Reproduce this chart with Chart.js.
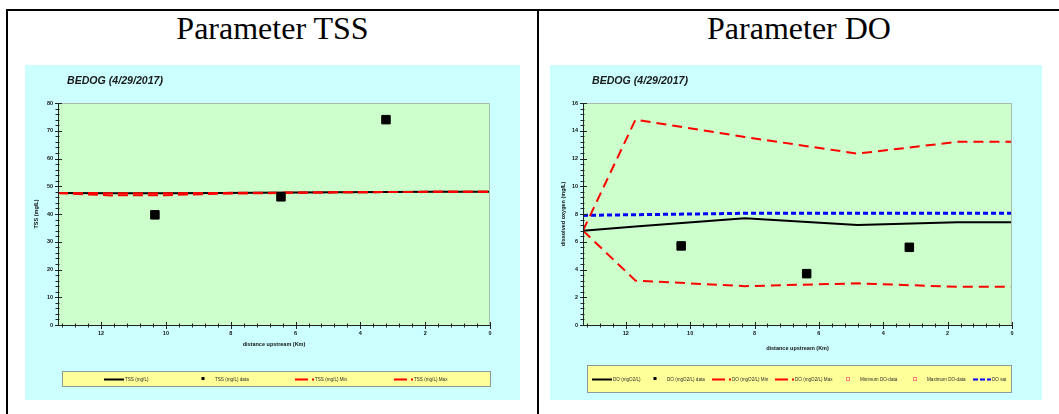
<!DOCTYPE html>
<html>
<head>
<meta charset="utf-8">
<script src="https://cdn.jsdelivr.net/npm/chart.js@4.4.1/dist/chart.umd.min.js"></script>
<style>
  html, body { margin: 0; padding: 0; background: #fff; width: 1059px; height: 414px; overflow: hidden; position: relative; }
  .rule { position: absolute; background: #000; }
  .hdr { position: absolute; top: 10px; font: 32px/36px "Liberation Serif", "Times New Roman", serif; color: #000; text-align: center; }
  .pane { position: absolute; }
  .pane canvas { display: block; filter: blur(0.3px); }
</style>
</head>
<body>
<div class="rule" style="left:6px;top:9px;width:1053px;height:2px"></div>
<div class="rule" style="left:6px;top:9px;width:2px;height:405px"></div>
<div class="rule" style="left:537px;top:9px;width:2px;height:405px"></div>
<div class="hdr" style="left:8px;width:529px">Parameter TSS</div>
<div class="hdr" style="left:539px;width:520px">Parameter DO</div>
<div class="pane" style="left:25px;top:65px;width:495px;height:335px"><canvas id="tss" width="495" height="335"></canvas></div>
<div class="pane" style="left:550px;top:65px;width:492px;height:335px"><canvas id="do" width="492" height="335"></canvas></div>

<script>
// River Bedog, survey of 4/29/2017 — distances are km upstream of the outlet
const chartTitle = 'BEDOG (4/29/2017)';
const xTitle = 'distance upstream (Km)';

// TSS model profile and envelope
const tssKm    = [13.33, 11.7, 10.0, 8.3, 4.8, 1.7, 0];
const tssModel = [47.6, 47.5, 47.5, 47.6, 47.8, 48.0, 48.0];
const tssMin   = [47.5, 46.7, 46.8, 47.3, 47.8, 48.0, 48.0];
const tssMax   = [47.6, 47.5, 47.5, 47.6, 47.8, 48.0, 48.0];
// TSS field samples
const tssObsKm = [10.34, 6.45, 3.21];
const tssObs   = [39.7, 46.2, 74.0];

// DO model profile, envelope and saturation
const doKm    = [13.33, 11.7, 8.3, 4.8, 1.7, 0];
const doModel = [6.8, 7.1, 7.7, 7.2, 7.4, 7.4];
const doMin   = [6.8, 3.2, 2.8, 3.0, 2.75, 2.75];
const doMax   = [6.8, 14.8, 13.55, 12.35, 13.2, 13.2];
const doSat   = [7.9, 7.95, 8.05, 8.05, 8.05, 8.05];
// DO field samples
const doObsKm = [10.28, 6.38, 3.19];
const doObs   = [5.7, 3.7, 5.6];
const doObsMinKm = [], doObsMin = [];
const doObsMaxKm = [], doObsMax = [];

const pts = (xs, ys) => xs.map((x, i) => ({ x, y: ys[i] }));
const SANS = '"Liberation Sans", Arial, sans-serif';

// Background, frame, tick marks, title and legend box
const framePlugin = {
  id: 'frame',
  beforeDraw(chart) {
    const { ctx, chartArea: a, width, height } = chart;
    ctx.save();
    ctx.fillStyle = '#CCFFFF';
    ctx.fillRect(0, 0, width, height);
    ctx.fillStyle = '#CCFFCC';
    ctx.fillRect(a.left, a.top, a.right - a.left, a.bottom - a.top);
    ctx.restore();
  },
  afterDraw(chart, args, o) {
    const { ctx, chartArea: a } = chart;
    const xs = chart.scales.x, ys = chart.scales.y;
    ctx.save();
    ctx.lineWidth = 1;
    ctx.strokeStyle = '#A9BBA9';
    ctx.beginPath();
    ctx.moveTo(a.left, a.top + 0.5);
    ctx.lineTo(a.right - 0.5, a.top + 0.5);
    ctx.lineTo(a.right - 0.5, a.bottom);
    ctx.stroke();
    ctx.strokeStyle = '#222';
    ctx.beginPath();
    ctx.moveTo(a.left + 0.5, a.top);
    ctx.lineTo(a.left + 0.5, a.bottom + 0.5);
    ctx.lineTo(a.right, a.bottom + 0.5);
    ctx.stroke();

    // tick marks: five minor divisions per labelled step
    const marks = (scale, step, horiz) => {
      const minor = step / 5;
      const n = Math.floor(scale.max / minor + 1e-6);
      ctx.beginPath();
      for (let k = 0; k <= n; k++) {
        const p = Math.round(scale.getPixelForValue(k * minor)) + 0.5;
        const major = k % 5 === 0;
        if (horiz) {
          ctx.moveTo(p, a.bottom - (major ? 3 : 1.5));
          ctx.lineTo(p, a.bottom + (major ? 4 : 2.5));
        } else {
          ctx.moveTo(a.left - (major ? 3 : 2.5), p);
          ctx.lineTo(a.left + (major ? 4 : 1.5), p);
        }
      }
      ctx.stroke();
    };
    marks(xs, xs.options.ticks.stepSize, true);
    marks(ys, ys.options.ticks.stepSize, false);

    // title
    ctx.fillStyle = '#1a1a1a';
    ctx.font = 'italic bold 10.6px ' + SANS;
    ctx.textBaseline = 'middle';
    ctx.textAlign = 'left';
    ctx.fillText(o.title, o.titleX, o.titleY);

    // legend
    const b = o.box;
    ctx.fillStyle = '#FFFF99';
    ctx.fillRect(b.l, b.t, b.w, b.h);
    ctx.strokeStyle = '#8C9A9A';
    ctx.strokeRect(b.l + 0.5, b.t + 0.5, b.w - 1, b.h - 1);
    const cy = Math.round(b.t + b.h / 2);
    ctx.font = '4.6px ' + SANS;
    o.items.forEach(it => {
      const ds = chart.data.datasets[it.ds];
      let tx = it.x;
      ctx.setLineDash([]);
      if (it.sym === 'line' || it.sym === 'lineDot') {
        ctx.strokeStyle = ds.borderColor;
        ctx.lineWidth = 2;
        ctx.setLineDash(it.dash || []);
        ctx.beginPath();
        ctx.moveTo(it.x, cy + 0.5);
        ctx.lineTo(it.x + it.len, cy + 0.5);
        ctx.stroke();
        ctx.setLineDash([]);
        tx = it.x + it.len + 1;
        if (it.sym === 'lineDot') {
          ctx.fillStyle = ds.borderColor;
          ctx.fillRect(it.x + it.len + 4, cy - 0.5, 2, 2);
          tx = it.x + it.len + 7;
        }
      } else if (it.sym === 'point') {
        ctx.fillStyle = ds.backgroundColor;
        ctx.fillRect(it.x - 1.5, cy - 2, 3, 3);
        tx = it.x + 12;
      } else if (it.sym === 'open') {
        ctx.strokeStyle = ds.borderColor;
        ctx.lineWidth = 1;
        ctx.strokeRect(it.x - 1.5, cy - 1.5, 3, 3);
        tx = it.x + 12;
      }
      ctx.fillStyle = '#2a2a2a';
      ctx.fillText(ds.label, tx, cy + 0.5);
    });
    ctx.restore();
  }
};

function buildChart(id, cfg) {
  return new Chart(document.getElementById(id), {
    type: 'line',
    data: { datasets: cfg.datasets },
    options: {
      responsive: false,
      animation: false,
      events: [],
      layout: { padding: { left: 0, right: 30, top: 38, bottom: 0 } },
      elements: { line: { tension: 0 }, point: { radius: 0 } },
      plugins: {
        legend: { display: false },
        tooltip: { enabled: false },
        frame: cfg.frame
      },
      scales: {
        x: {
          type: 'linear', reverse: true, min: 0, max: 13.33,
          grid: { display: false, drawTicks: false },
          border: { display: false },
          ticks: { stepSize: 2, includeBounds: false, autoSkip: false, maxRotation: 0,
                   padding: 5, color: '#111', font: { family: SANS, size: 5.5, weight: 'bold' } },
          title: { display: true, text: xTitle, color: '#111',
                   font: { family: SANS, size: 5.5, weight: 'bold' },
                   padding: { top: 0, bottom: cfg.xTitlePad } },
          afterFit: s => { s.height = 75; }
        },
        y: {
          type: 'linear', min: 0, max: cfg.yMax,
          grid: { display: false, drawTicks: false },
          border: { display: false },
          ticks: { stepSize: cfg.yStep, autoSkip: false, padding: 5, color: '#111',
                   font: { family: SANS, size: 5.5, weight: 'bold' } },
          title: { display: true, text: cfg.yTitle, color: '#111',
                   font: { family: SANS, size: 5.5, weight: 'bold' },
                   padding: { top: cfg.yTitlePad, bottom: 0 } },
          afterFit: s => { s.width = 33; }
        }
      }
    },
    plugins: [framePlugin]
  });
}

const lineDs = (label, xs, ys, color, width, dash, order) => ({
  label, data: pts(xs, ys), borderColor: color, backgroundColor: color,
  borderWidth: width, borderDash: dash, pointRadius: 0, fill: false, order
});
const obsDs = (label, xs, ys, fillColor, strokeColor) => ({
  label, data: pts(xs, ys), showLine: false, pointStyle: 'rect',
  pointRadius: 6, pointBorderWidth: 1,
  pointBackgroundColor: fillColor, pointBorderColor: strokeColor,
  backgroundColor: fillColor, borderColor: strokeColor, order: 0
});

buildChart('tss', {
  yMax: 80, yStep: 10, yTitle: 'TSS (mg/L)', yTitlePad: 7.7, xTitlePad: 52.7,
  datasets: [
    lineDs('TSS (mg/L)', tssKm, tssModel, '#000000', 2, [], 5),
    obsDs('TSS (mg/L) data', tssObsKm, tssObs, '#000000', '#000000'),
    lineDs('TSS (mg/L) Min', tssKm, tssMin, '#FF0000', 2, [10, 5], 2),
    lineDs('TSS (mg/L) Max', tssKm, tssMax, '#FF0000', 2, [10, 5], 2)
  ],
  frame: {
    title: chartTitle, titleX: 42, titleY: 16,
    box: { l: 37, t: 306, w: 429, h: 16 },
    items: [
      { ds: 0, sym: 'line', x: 79, len: 20 },
      { ds: 1, sym: 'point', x: 178 },
      { ds: 2, sym: 'lineDot', x: 270, len: 13 },
      { ds: 3, sym: 'lineDot', x: 369, len: 13 }
    ]
  }
});

buildChart('do', {
  yMax: 16, yStep: 2, yTitle: 'dissolved oxygen (mg/L)', yTitlePad: 9.7, xTitlePad: 48.7,
  datasets: [
    lineDs('DO (mgO2/L)', doKm, doModel, '#000000', 2, [], 5),
    obsDs('DO (mgO2/L) data', doObsKm, doObs, '#000000', '#000000'),
    lineDs('DO (mgO2/L) Min', doKm, doMin, '#FF0000', 2, [10, 6], 2),
    lineDs('DO (mgO2/L) Max', doKm, doMax, '#FF0000', 2, [10, 6], 2),
    obsDs('Minimum DO-data', doObsMinKm, doObsMin, 'rgba(0,0,0,0)', '#FF7F7F'),
    obsDs('Maximum DO-data', doObsMaxKm, doObsMax, 'rgba(0,0,0,0)', '#FF7F7F'),
    lineDs('DO sat', doKm, doSat, '#0000FF', 3, [5, 3], 3)
  ],
  frame: {
    title: chartTitle, titleX: 42, titleY: 16,
    box: { l: 37, t: 300, w: 425, h: 28 },
    items: [
      { ds: 0, sym: 'line', x: 42, len: 20 },
      { ds: 1, sym: 'point', x: 105 },
      { ds: 2, sym: 'lineDot', x: 162, len: 13 },
      { ds: 3, sym: 'lineDot', x: 225, len: 13 },
      { ds: 4, sym: 'open', x: 298 },
      { ds: 5, sym: 'open', x: 365 },
      { ds: 6, sym: 'line', x: 423, len: 18, dash: [5, 2] }
    ]
  }
});
</script>
</body>
</html>
